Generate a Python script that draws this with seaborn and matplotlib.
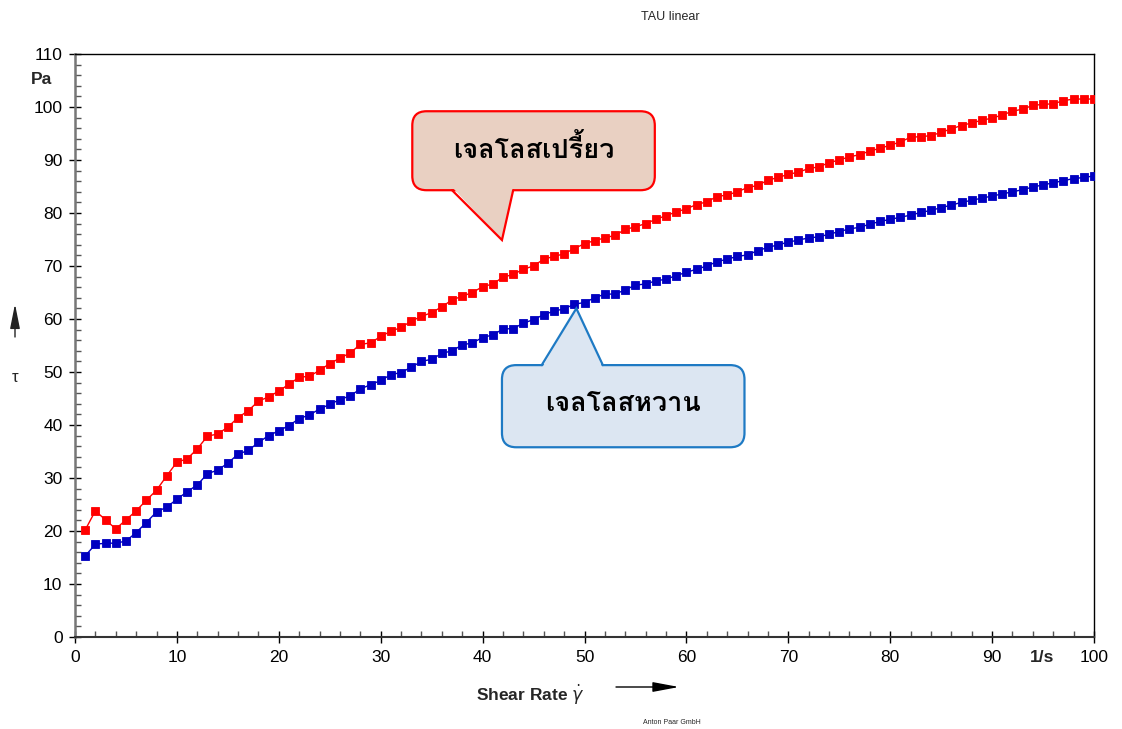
import numpy as np
import pandas as pd
import matplotlib
matplotlib.use("Agg")
import matplotlib.pyplot as plt
import seaborn as sns
from matplotlib import font_manager
from matplotlib.ft2font import FT2Font
from matplotlib.patches import FancyBboxPatch, Polygon, FancyArrowPatch
from matplotlib.ticker import MultipleLocator

# ---------------- data ----------------
shear_rate = list(range(1, 101))
sour_gel = [20.2, 23.8, 22.1, 20.4, 22.1, 23.8, 25.8, 27.7, 30.4, 33.0,
            33.6, 35.5, 37.9, 38.3, 39.6, 41.4, 42.7, 44.5, 45.3, 46.4,
            47.7, 49.0, 49.2, 50.3, 51.6, 52.6, 53.6, 55.2, 55.5, 56.7,
            57.7, 58.4, 59.6, 60.5, 61.2, 62.3, 63.6, 64.3, 65.0, 66.1,
            66.6, 67.9, 68.4, 69.4, 70.0, 71.3, 71.8, 72.3, 73.3, 74.2,
            74.8, 75.3, 75.8, 76.9, 77.4, 78.0, 78.8, 79.5, 80.2, 80.8,
            81.6, 82.1, 83.1, 83.4, 84.0, 84.8, 85.2, 86.2, 86.7, 87.3,
            87.7, 88.4, 88.7, 89.5, 90.0, 90.6, 91.0, 91.7, 92.2, 92.8,
            93.4, 94.3, 94.4, 94.6, 95.2, 95.9, 96.5, 97.0, 97.5, 97.9,
            98.5, 99.2, 99.6, 100.3, 100.5, 100.6, 101.2, 101.5, 101.5, 101.5]
sweet_gel = [15.3, 17.5, 17.7, 17.7, 18.1, 19.7, 21.6, 23.6, 24.5, 26.0,
             27.4, 28.7, 30.8, 31.5, 32.8, 34.5, 35.2, 36.7, 38.0, 38.9,
             39.9, 41.2, 41.9, 43.0, 43.9, 44.8, 45.5, 46.8, 47.6, 48.4,
             49.5, 49.9, 50.9, 52.0, 52.4, 53.5, 54.0, 55.1, 55.5, 56.5,
             57.0, 58.1, 58.2, 59.2, 59.9, 60.8, 61.5, 61.9, 62.8, 63.1,
             64.0, 64.7, 64.7, 65.5, 66.4, 66.6, 67.2, 67.5, 68.2, 68.8,
             69.4, 70.0, 70.8, 71.3, 71.8, 72.1, 72.9, 73.5, 74.0, 74.5,
             74.9, 75.3, 75.5, 76.0, 76.5, 77.0, 77.3, 77.9, 78.4, 78.8,
             79.2, 79.6, 80.1, 80.5, 81.0, 81.5, 82.0, 82.4, 82.8, 83.2,
             83.6, 84.0, 84.4, 84.9, 85.3, 85.7, 86.1, 86.5, 86.7, 87.0]
series_names = ["เจลโลสเปรี้ยว", "เจลโลสหวาน"]
series_colors = ["#FF0000", "#0000C0"]
x_ticks = list(range(0, 101, 10))
y_ticks = list(range(0, 111, 10))

# ---------------- fonts ----------------
sns.set_style("ticks")
thai_family = None
for fe in font_manager.fontManager.ttflist:
    try:
        cm = FT2Font(fe.fname).get_charmap()
        if 0x0E40 in cm and 0x0E08 in cm and 0x0E27 in cm:
            thai_family = fe.name
            break
    except Exception:
        pass
base = ["Liberation Sans", "DejaVu Sans"]
plt.rcParams["font.family"] = base
thai_fams = ([thai_family] if thai_family else []) + base

# ---------------- figure ----------------
fig = plt.figure(figsize=(11.22, 7.29), dpi=100)
ax = fig.add_axes([75 / 1122, 1 - 637 / 729, (1094 - 75) / 1122, (637 - 54) / 729])

df = pd.DataFrame({
    "x": shear_rate * 2,
    "y": sour_gel + sweet_gel,
    "s": [series_names[0]] * len(shear_rate) + [series_names[1]] * len(shear_rate),
})
sns.lineplot(data=df, x="x", y="y", hue="s", palette=series_colors,
             marker="s", markersize=5.3, markeredgewidth=0.6, linewidth=1.0,
             legend=False, ax=ax, zorder=3)
for line, c in zip(ax.get_lines(), series_colors):
    line.set_markeredgecolor(c)
    line.set_markerfacecolor(c)

ax.set_xlim(0, 100)
ax.set_ylim(0, 110)
ax.set_xticks(x_ticks)
ax.set_yticks(y_ticks)
ax.xaxis.set_minor_locator(MultipleLocator(2))
ax.yaxis.set_minor_locator(MultipleLocator(2))
ax.set_xlabel("")
ax.set_ylabel("")
ax.tick_params(which="major", direction="inout", length=8, width=1.0,
               labelsize=12.5, colors="black", pad=5)
ax.tick_params(which="minor", direction="in", length=4, width=1.0, colors="#555555")
for s in ["top", "right"]:
    ax.spines[s].set_visible(True)
    ax.spines[s].set_color("black")
    ax.spines[s].set_linewidth(1.0)
ax.spines["left"].set_color("#777777")
ax.spines["left"].set_linewidth(1.8)
ax.spines["bottom"].set_color("#333333")
ax.spines["bottom"].set_linewidth(1.5)
ax.grid(False)

# unit labels
ax.text(-0.022, 105.2, "Pa", transform=ax.get_yaxis_transform(), ha="right",
        va="center", fontsize=12.5, fontweight="bold")
ax.text(94.9, -0.022, "1/s", transform=ax.get_xaxis_transform(), ha="center",
        va="top", fontsize=12.5, fontweight="bold")

# axis labels with arrows (figure pixel based positions)
W, H = 1122, 729
fig.text(15 / W, 1 - 378 / H, "τ", ha="center", va="center", fontsize=12)
fig.add_artist(FancyArrowPatch(
    (15 / W, 1 - 337 / H), (15 / W, 1 - 304 / H), transform=fig.transFigure,
    arrowstyle="-|>,head_length=1.5,head_width=0.3", mutation_scale=10,
    color="#222222", lw=1.0, shrinkA=0, shrinkB=0))
fig.text(530 / W, 1 - 695 / H, r"Shear Rate $\dot{\gamma}$", ha="center",
         va="center", fontsize=12.5, fontweight="bold")
fig.add_artist(FancyArrowPatch(
    (616 / W, 1 - 687 / H), (679 / W, 1 - 687 / H), transform=fig.transFigure,
    arrowstyle="-|>,head_length=1.6,head_width=0.3", mutation_scale=10,
    color="black", lw=1.0, shrinkA=0, shrinkB=0))
fig.text(670 / W, 1 - 17 / H, "TAU linear", ha="center", va="center", fontsize=9)
fig.text(672 / W, 1 - 723 / H, "Anton Paar GmbH", ha="center", va="center",
         fontsize=5)

# ---------------- callouts ----------------
aspect = (1 / 5.3) / (1 / 10.19)


def callout(x0, x1, y0, y1, tail_base, tip, face, edge, text, tail_top):
    box = FancyBboxPatch((x0, y0), x1 - x0, y1 - y0,
                         boxstyle="round,pad=0,rounding_size=1.4",
                         mutation_aspect=aspect, facecolor=face,
                         edgecolor=edge, linewidth=1.6, zorder=5)
    ax.add_patch(box)
    yb = y1 if tail_top else y0
    inset = -0.6 if tail_top else 0.6
    fill = Polygon([(tail_base[0], yb + inset), tip, (tail_base[1], yb + inset)],
                   closed=True, facecolor=face, edgecolor="none", zorder=6)
    ax.add_patch(fill)
    ax.plot([tail_base[0], tip[0], tail_base[1]], [yb, tip[1], yb],
            color=edge, linewidth=1.6, zorder=7, solid_joinstyle="miter")
    ax.text((x0 + x1) / 2, (y0 + y1) / 2 + 0.4, text, ha="center", va="center",
            fontsize=19.5, fontweight="bold", family=thai_fams, zorder=8,
            color="black")


callout(33.1, 56.9, 84.3, 99.2, (37.0, 43.0), (41.9, 74.9),
        "#E9D0C2", "#FF0000", series_names[0], tail_top=False)
callout(41.9, 65.7, 35.8, 51.3, (45.8, 51.8), (49.2, 62.0),
        "#DCE6F2", "#1E7AC4", series_names[1], tail_top=True)

fig.savefig("out.png", dpi=100)
